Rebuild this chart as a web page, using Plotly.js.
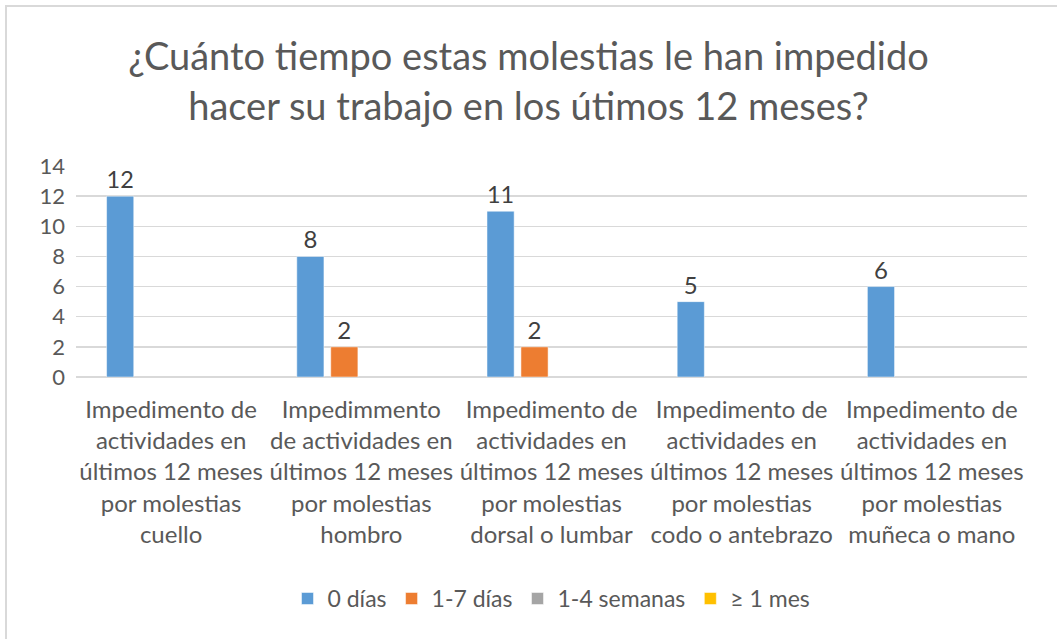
<!DOCTYPE html>
<html>
<head>
<meta charset="utf-8">
<script src="https://cdn.plot.ly/plotly-3.0.1.min.js"></script>
<style>
  body { margin: 0; background: #fff; overflow: hidden; }
  #frame { position: absolute; left: 5px; top: 5px; width: 1100px; height: 700px;
           border: 2px solid #d9d9d9; }
  #chart { position: absolute; left: 0; top: 0; width: 1057px; height: 639px; }
</style>
</head>
<body>
<div id="frame"></div>
<div id="chart"></div>
<script>
// categories (x axis)
var categories = [
    "Impedimento de<br>actividades en<br>últimos 12 meses<br>por molestias<br>cuello",
    "Impedimmento<br>de actividades en<br>últimos 12 meses<br>por molestias<br>hombro",
    "Impedimento de<br>actividades en<br>últimos 12 meses<br>por molestias<br>dorsal o lumbar",
    "Impedimento de<br>actividades en<br>últimos 12 meses<br>por molestias<br>codo o antebrazo",
    "Impedimento de<br>actividades en<br>últimos 12 meses<br>por molestias<br>muñeca o mano"
];

// series values (null = no bar / no label)
var dias0 = [12, 8, 11, 5, 6];
var dias1a7 = [null, 2, 2, null, null];
var semanas1a4 = [null, null, null, null, null];
var mes1 = [null, null, null, null, null];

var seriesNames = ["0 días", "1-7 días", "1-4 semanas", "≥ 1 mes"];
var seriesColors = ["#5B9BD5", "#ED7D31", "#A5A5A5", "#FFC000"];
var seriesValues = [dias0, dias1a7, semanas1a4, mes1];

var data = [];
for (var i = 0; i < seriesValues.length; i++) {
    data.push({
        x: categories,
        y: seriesValues[i],
        name: seriesNames[i],
        type: "bar",
        marker: {color: seriesColors[i], line: {color: "#ffffff", width: 0.5}},
        text: seriesValues[i].map(function (v) { return v === null ? "" : String(v); }),
        textposition: "outside",
        cliponaxis: false,
        textfont: {family: "Lato, sans-serif", size: 24, color: "#404040"}
    });
}

var layout = {
    width: 1057,
    height: 639,
    paper_bgcolor: "rgba(0,0,0,0)",
    plot_bgcolor: "rgba(0,0,0,0)",
    margin: {l: 76, r: 30, t: 166, b: 262},
    barmode: "group",
    bargap: 0.286,
    bargroupgap: 0.2,
    title: {
        text: "¿Cuánto tiempo estas molestias le han impedido<br>hacer su trabajo en los útimos 12 meses?",
        font: {family: "Lato, sans-serif", size: 38, color: "#595959"},
        x: 0.5, xanchor: "center",
        yref: "container",
        y: 0.89, yanchor: "middle"
    },
    xaxis: {
        tickfont: {family: "Lato, sans-serif", size: 24, color: "#595959"},
        tickangle: 0,
        showline: false,
        ticks: "",
        ticklabelstandoff: 16
    },
    yaxis: {
        range: [0, 14],
        dtick: 2,
        tickfont: {family: "Lato, sans-serif", size: 22, color: "#595959"},
        gridcolor: "#d9d9d9",
        gridwidth: 1.5,
        zeroline: true,
        zerolinecolor: "#d9d9d9",
        zerolinewidth: 1.5,
        ticks: "",
        ticklabelstandoff: 10,
        fixedrange: true
    },
    showlegend: true,
    legend: {
        orientation: "h",
        x: 0.5, xanchor: "center",
        y: -1.05, yanchor: "middle",
        font: {family: "Lato, sans-serif", size: 23, color: "#595959"},
        itemwidth: 30,
        traceorder: "normal"
    }
};

Plotly.newPlot("chart", data, layout, {displayModeBar: false, staticPlot: true});
</script>
</body>
</html>
